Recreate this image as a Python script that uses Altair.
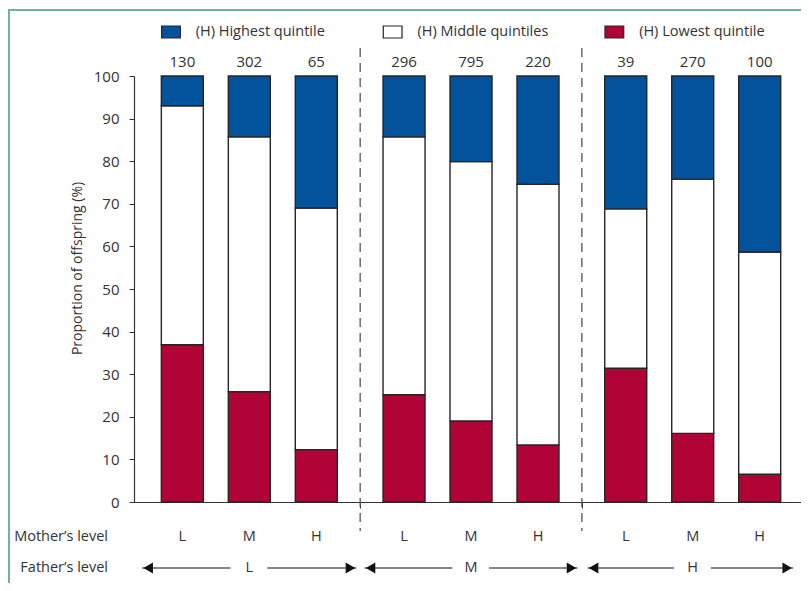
import altair as alt
import pandas as pd

# ---------------- data ----------------
fathers = ["L", "M", "H"]            # father's level (groups)
mothers = ["L", "M", "H"]            # mother's level (bars within group)
quintiles = ["(H) Highest quintile", "(H) Middle quintiles", "(H) Lowest quintile"]
quint_colors = ["#02529c", "#ffffff", "#b00336"]

# proportions (%) per bar, in order F=L(M=L,M,H), F=M(...), F=H(...)
lowest = [36.9, 25.9, 12.3, 25.2, 19.0, 13.4, 31.4, 16.1, 6.5]
middle = [56.1, 59.8, 56.7, 60.5, 60.9, 61.2, 37.4, 59.7, 52.2]
highest = [7.0, 14.3, 31.0, 14.3, 20.1, 25.4, 31.2, 24.2, 41.3]
counts = [130, 302, 65, 296, 795, 220, 39, 270, 100]

# ---------------- layout helpers ----------------
GROUP_STEP = 3.31
FONT = "Open Sans"
DARK = "#333333"

rows, bars = [], []
k = 0
for g, f in enumerate(fathers):
    for j, m in enumerate(mothers):
        pos = g * GROUP_STEP + j
        bars.append({"pos": pos, "mother": m, "n": counts[k]})
        for rank, (q, v) in enumerate(zip([quintiles[2], quintiles[1], quintiles[0]],
                                          [lowest[k], middle[k], highest[k]])):
            rows.append({"pos": pos, "quintile": q, "rank": rank, "value": v})
        k += 1
df = pd.DataFrame(rows)
bars_df = pd.DataFrame(bars)

sep_df = pd.DataFrame({"pos": [GROUP_STEP - 0.655, 2 * GROUP_STEP - 0.655]})

arrow_rows, tri_rows, flab_rows = [], [], []
starts = [-0.6, GROUP_STEP - 0.59, 2 * GROUP_STEP - 0.57]
ends = [2.6, GROUP_STEP + 2.59, 2 * GROUP_STEP + 2.5]
for g, f in enumerate(fathers):
    c = g * GROUP_STEP + 1
    flab_rows.append({"pos": c, "label": f})
    arrow_rows.append({"a": starts[g], "b": c - 0.28})
    arrow_rows.append({"a": c + 0.27, "b": ends[g]})
    tri_rows.append({"pos": starts[g] + 0.09, "shape": "triangle-left"})
    tri_rows.append({"pos": ends[g] - 0.09, "shape": "triangle-right"})
arrow_df = pd.DataFrame(arrow_rows)
tri_df = pd.DataFrame(tri_rows)
flab_df = pd.DataFrame(flab_rows)

leg_df = pd.DataFrame({
    "quintile": quintiles,
    "left": [g * GROUP_STEP - 0.31 for g in range(3)],
})
leg_df["right"] = leg_df["left"] + 0.28
leg_df["tx"] = leg_df["left"] + 0.51

# ---------------- scales / axes ----------------
xscale = alt.Scale(domain=[-0.647, 9.162], nice=False, zero=False)
xaxis = alt.Axis(values=list(sep_df["pos"]), labels=False, title=None, grid=False,
                 tickSize=6, domainColor=DARK, tickColor=DARK, domainWidth=1.2)
yscale = alt.Scale(domain=[0, 100], nice=False)
yaxis = alt.Axis(values=list(range(0, 101, 10)), grid=False, tickSize=5,
                 labelPadding=10, labelFontSize=15, labelFont=FONT, labelColor=DARK,
                 domainColor=DARK, tickColor=DARK, domainWidth=1.2,
                 title="Proportion of offspring (%)", titleFont=FONT,
                 titleFontSize=14, titleFontWeight="normal", titleColor=DARK,
                 titleX=-57, titleY=192, titleBaseline="middle", titleAlign="center")
color = alt.Color("quintile:N", scale=alt.Scale(domain=quintiles, range=quint_colors),
                  legend=None)

X = lambda f: alt.X(f, scale=xscale, axis=xaxis)

barlayer = alt.Chart(df).mark_bar(width=42, stroke="#262626", strokeWidth=1.4).encode(
    x=X("pos:Q"),
    y=alt.Y("value:Q", stack="zero", scale=yscale, axis=yaxis),
    color=color,
    order=alt.Order("rank:Q"),
)

nlayer = alt.Chart(bars_df).mark_text(font=FONT, fontSize=15, color=DARK,
                                      baseline="alphabetic").encode(
    x=X("pos:Q"), y=alt.value(-9.5), text="n:Q")

mlayer = alt.Chart(bars_df).mark_text(font=FONT, fontSize=14.5, color=DARK,
                                      baseline="middle").encode(
    x=X("pos:Q"), y=alt.value(461), text="mother:N")

seplayer = alt.Chart(sep_df).mark_rule(strokeDash=[9, 6], color="#555555",
                                       strokeWidth=1.3).encode(
    x=X("pos:Q"), y=alt.value(-28), y2=alt.value(455))

arrowlayer = alt.Chart(arrow_df).mark_rule(color="#111111", strokeWidth=1.2).encode(
    x=X("a:Q"), x2="b:Q", y=alt.value(492))

trilayer = alt.Chart(tri_df).mark_point(filled=True, color="#111111", size=120,
                                        opacity=1).encode(
    x=X("pos:Q"), y=alt.value(492),
    shape=alt.Shape("shape:N", scale=None))

flayer = alt.Chart(flab_df).mark_text(font=FONT, fontSize=14.5, color=DARK,
                                      baseline="middle").encode(
    x=X("pos:Q"), y=alt.value(492), text="label:N")

rowlabels = pd.DataFrame({"t": ["Mother’s level", "Father’s level"], "yy": [461, 492]})
rowlayer = alt.Chart(rowlabels).mark_text(font=FONT, fontSize=14.5, color=DARK,
                                          align="right", baseline="middle").encode(
    x=alt.value(-26), y=alt.Y("yy:Q", scale=None), text="t:N")

legrect = alt.Chart(leg_df).mark_rect(stroke="#262626", strokeWidth=1.2).encode(
    x=X("left:Q"), x2="right:Q", y=alt.value(-50), y2=alt.value(-38), color=color)

legtext = alt.Chart(leg_df).mark_text(font=FONT, fontSize=14.5, color=DARK,
                                      align="left", baseline="middle").encode(
    x=X("tx:Q"), y=alt.value(-44), text="quintile:N")

green = "#6db593"
frame_top = alt.Chart(pd.DataFrame({"k": [0]})).mark_rule(color=green, strokeWidth=2).encode(
    x=alt.value(-126), x2=alt.value(700), y=alt.value(-66))
frame_left = alt.Chart(pd.DataFrame({"k": [0]})).mark_rule(color=green, strokeWidth=2).encode(
    x=alt.value(-125), y=alt.value(-67), y2=alt.value(520))

chart = alt.layer(
    frame_top, frame_left, seplayer, barlayer, nlayer, mlayer, arrowlayer, trilayer,
    flayer, rowlayer, legrect, legtext,
).properties(
    width=667, height=426,
    autosize=alt.AutoSizeParams(type="none"),
    padding={"left": 126, "top": 68, "right": 0, "bottom": 81},
).configure_view(stroke=None)

chart.save("out.html", embed_options={"renderer": "svg", "actions": False})
